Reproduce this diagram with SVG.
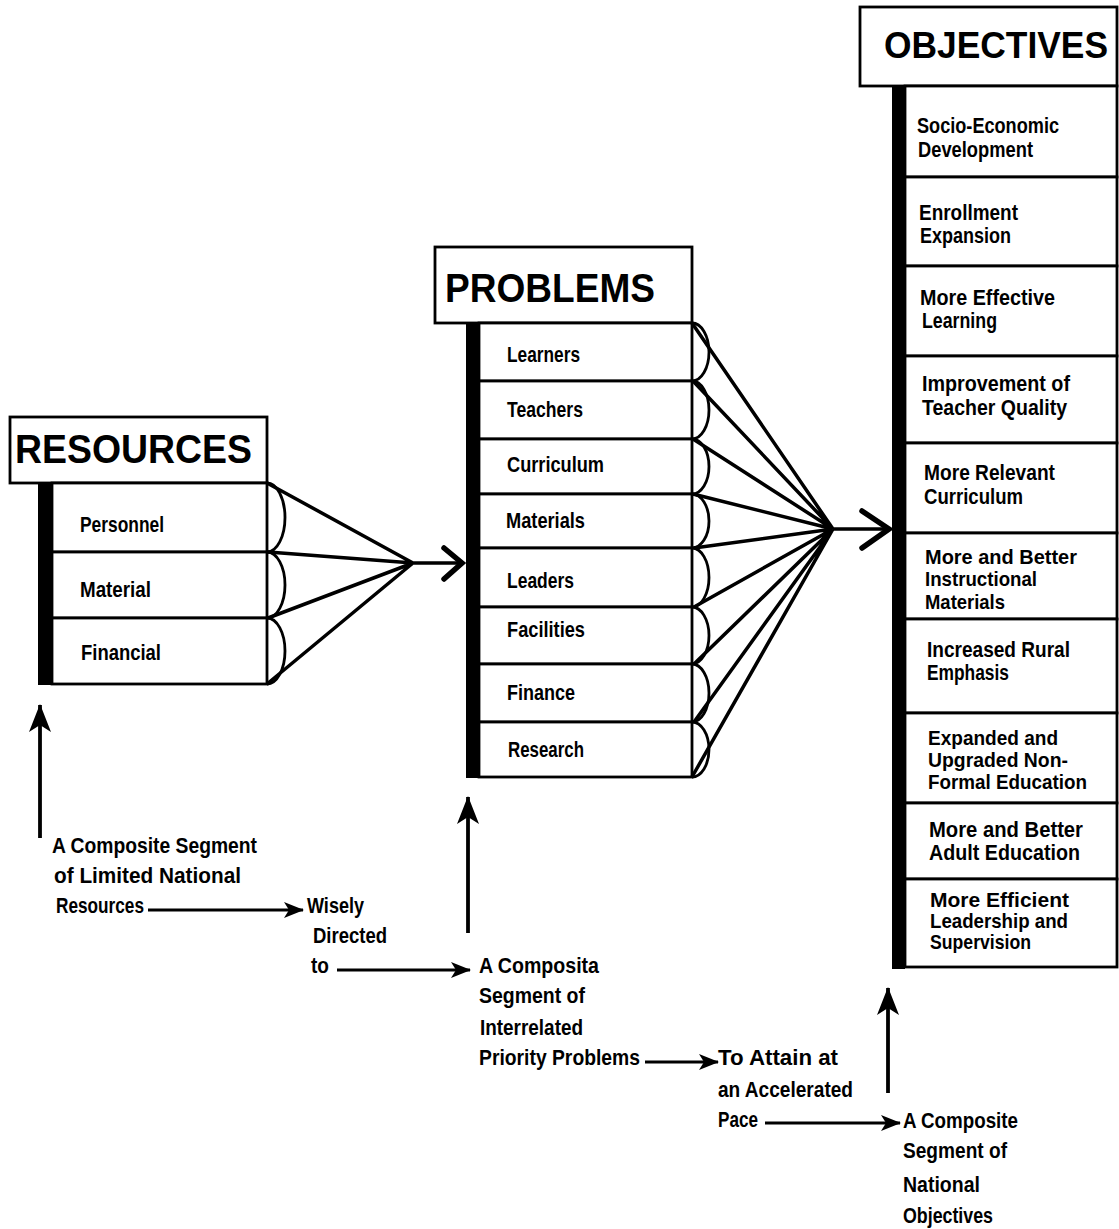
<svg xmlns="http://www.w3.org/2000/svg" width="1119" height="1229" viewBox="0 0 1119 1229">
<style>
.bg{fill:#fff}
.box{fill:#fff;stroke:#000;stroke-width:2.8}
.bar{fill:#000}
.t{font-family:"Liberation Sans",Arial,sans-serif;font-weight:bold;font-size:22.5px;fill:#000}
.s{font-size:20.5px}
.h{font-size:41px}
.fan{fill:none;stroke:#000;stroke-width:3.5;stroke-linejoin:round}
.arc{fill:none;stroke:#000;stroke-width:2.8}
.chev{fill:none;stroke:#000;stroke-width:5.5;stroke-linecap:round;stroke-linejoin:miter}
.ar{fill:none;stroke:#000;stroke-width:2.8;marker-end:url(#ah)}
.up{fill:none;stroke:#000;stroke-width:3.8;marker-end:url(#uh)}
</style>
<defs>
<marker id="ah" viewBox="0 0 20 16" markerWidth="20" markerHeight="16" refX="19" refY="8" orient="auto" markerUnits="userSpaceOnUse">
<path d="M0,0 L20,8 L0,16 L5,8 z" fill="#000"/>
</marker>
<marker id="uh" viewBox="0 0 28 22" markerWidth="28" markerHeight="22" refX="27" refY="11" orient="auto" markerUnits="userSpaceOnUse">
<path d="M0,0 L28,11 L0,22 L7,11 z" fill="#000"/>
</marker>
</defs>
<rect class="bg" x="0" y="0" width="1119" height="1229"/>

<g id="resources">
<rect class="box" x="10" y="417" width="257" height="66"/>
<text class="t h" x="15" y="463" textLength="237" lengthAdjust="spacingAndGlyphs">RESOURCES</text>
<rect class="box" x="52" y="483" width="215" height="69"/>
<rect class="box" x="52" y="552" width="215" height="66"/>
<rect class="box" x="52" y="618" width="215" height="66"/>
<rect class="bar" x="38" y="483" width="14" height="202"/>
<text class="t" x="80" y="532" textLength="84" lengthAdjust="spacingAndGlyphs">Personnel</text>
<text class="t" x="80" y="597" textLength="71" lengthAdjust="spacingAndGlyphs">Material</text>
<text class="t" x="81" y="660" textLength="80" lengthAdjust="spacingAndGlyphs">Financial</text>
</g>

<g id="problems">
<rect class="box" x="435" y="247" width="257" height="76"/>
<text class="t h" x="445" y="302" textLength="210" lengthAdjust="spacingAndGlyphs">PROBLEMS</text>
<rect class="box" x="479" y="323" width="213" height="58"/>
<rect class="box" x="479" y="381" width="213" height="58"/>
<rect class="box" x="479" y="439" width="213" height="55"/>
<rect class="box" x="479" y="494" width="213" height="54"/>
<rect class="box" x="479" y="548" width="213" height="59"/>
<rect class="box" x="479" y="607" width="213" height="57"/>
<rect class="box" x="479" y="664" width="213" height="58"/>
<rect class="box" x="479" y="722" width="213" height="55"/>
<rect class="bar" x="466" y="323" width="13" height="455"/>
<text class="t" x="507" y="362" textLength="73" lengthAdjust="spacingAndGlyphs">Learners</text>
<text class="t" x="507" y="417" textLength="76" lengthAdjust="spacingAndGlyphs">Teachers</text>
<text class="t" x="507" y="472" textLength="97" lengthAdjust="spacingAndGlyphs">Curriculum</text>
<text class="t" x="506" y="528" textLength="79" lengthAdjust="spacingAndGlyphs">Materials</text>
<text class="t" x="507" y="588" textLength="67" lengthAdjust="spacingAndGlyphs">Leaders</text>
<text class="t" x="507" y="637" textLength="78" lengthAdjust="spacingAndGlyphs">Facilities</text>
<text class="t" x="507" y="700" textLength="68" lengthAdjust="spacingAndGlyphs">Finance</text>
<text class="t" x="508" y="757" textLength="76" lengthAdjust="spacingAndGlyphs">Research</text>
</g>

<g id="objectives">
<rect class="box" x="860" y="7" width="257" height="79"/>
<text class="t h" x="884" y="58" textLength="224" lengthAdjust="spacingAndGlyphs" style="font-size:36px">OBJECTIVES</text>
<rect class="box" x="905" y="86" width="212" height="91"/>
<rect class="box" x="905" y="177" width="212" height="89"/>
<rect class="box" x="905" y="266" width="212" height="90"/>
<rect class="box" x="905" y="356" width="212" height="87"/>
<rect class="box" x="905" y="443" width="212" height="90"/>
<rect class="box" x="905" y="533" width="212" height="86"/>
<rect class="box" x="905" y="619" width="212" height="94"/>
<rect class="box" x="905" y="713" width="212" height="90"/>
<rect class="box" x="905" y="803" width="212" height="76"/>
<rect class="box" x="905" y="879" width="212" height="88"/>
<rect class="bar" x="892" y="86" width="13" height="883"/>
<text class="t" x="917" y="133" textLength="142" lengthAdjust="spacingAndGlyphs">Socio-Economic</text>
<text class="t" x="918" y="157" textLength="115" lengthAdjust="spacingAndGlyphs">Development</text>
<text class="t" x="919" y="220" textLength="99" lengthAdjust="spacingAndGlyphs">Enrollment</text>
<text class="t" x="920" y="243" textLength="91" lengthAdjust="spacingAndGlyphs">Expansion</text>
<text class="t" x="920" y="305" textLength="135" lengthAdjust="spacingAndGlyphs">More  Effective</text>
<text class="t" x="922" y="328" textLength="75" lengthAdjust="spacingAndGlyphs">Learning</text>
<text class="t" x="922" y="391" textLength="148" lengthAdjust="spacingAndGlyphs">Improvement  of</text>
<text class="t" x="922" y="415" textLength="145" lengthAdjust="spacingAndGlyphs">Teacher  Quality</text>
<text class="t" x="924" y="480" textLength="131" lengthAdjust="spacingAndGlyphs">More  Relevant</text>
<text class="t" x="924" y="504" textLength="99" lengthAdjust="spacingAndGlyphs">Curriculum</text>
<text class="t s" x="925" y="564" textLength="152" lengthAdjust="spacingAndGlyphs">More  and  Better</text>
<text class="t s" x="925" y="586" textLength="112" lengthAdjust="spacingAndGlyphs">Instructional</text>
<text class="t s" x="925" y="609" textLength="80" lengthAdjust="spacingAndGlyphs">Materials</text>
<text class="t" x="927" y="657" textLength="143" lengthAdjust="spacingAndGlyphs">Increased  Rural</text>
<text class="t" x="927" y="680" textLength="82" lengthAdjust="spacingAndGlyphs">Emphasis</text>
<text class="t s" x="928" y="745" textLength="130" lengthAdjust="spacingAndGlyphs">Expanded  and</text>
<text class="t s" x="928" y="767" textLength="140" lengthAdjust="spacingAndGlyphs">Upgraded  Non-</text>
<text class="t s" x="928" y="789" textLength="159" lengthAdjust="spacingAndGlyphs">Formal Education</text>
<text class="t" x="929" y="837" textLength="154" lengthAdjust="spacingAndGlyphs">More  and  Better</text>
<text class="t" x="929" y="860" textLength="151" lengthAdjust="spacingAndGlyphs">Adult  Education</text>
<text class="t s" x="930" y="907" textLength="139" lengthAdjust="spacingAndGlyphs">More  Efficient</text>
<text class="t s" x="930" y="928" textLength="138" lengthAdjust="spacingAndGlyphs">Leadership  and</text>
<text class="t s" x="930" y="949" textLength="101" lengthAdjust="spacingAndGlyphs">Supervision</text>
</g>

<g id="label-resources">
<text class="t" x="52" y="853" textLength="205" lengthAdjust="spacingAndGlyphs">A  Composite  Segment</text>
<text class="t" x="54" y="883" textLength="187" lengthAdjust="spacingAndGlyphs">of  Limited  National</text>
<text class="t" x="56" y="913" textLength="88" lengthAdjust="spacingAndGlyphs">Resources</text>
</g>
<g id="label-directed">
<text class="t" x="307" y="913" textLength="57" lengthAdjust="spacingAndGlyphs">Wisely</text>
<text class="t" x="313" y="943" textLength="74" lengthAdjust="spacingAndGlyphs">Directed</text>
<text class="t" x="311" y="973" textLength="18" lengthAdjust="spacingAndGlyphs">to</text>
</g>
<g id="label-problems">
<text class="t" x="479" y="973" textLength="120" lengthAdjust="spacingAndGlyphs">A  Composita</text>
<text class="t" x="479" y="1003" textLength="106" lengthAdjust="spacingAndGlyphs">Segment  of</text>
<text class="t" x="480" y="1035" textLength="103" lengthAdjust="spacingAndGlyphs">Interrelated</text>
<text class="t" x="479" y="1065" textLength="161" lengthAdjust="spacingAndGlyphs">Priority  Problems</text>
</g>
<g id="label-attain">
<text class="t" x="718" y="1065" textLength="120" lengthAdjust="spacingAndGlyphs">To  Attain  at</text>
<text class="t" x="718" y="1097" textLength="135" lengthAdjust="spacingAndGlyphs">an  Accelerated</text>
<text class="t" x="718" y="1127" textLength="40" lengthAdjust="spacingAndGlyphs">Pace</text>
</g>
<g id="label-objectives">
<text class="t" x="903" y="1128" textLength="115" lengthAdjust="spacingAndGlyphs">A  Composite</text>
<text class="t" x="903" y="1158" textLength="104" lengthAdjust="spacingAndGlyphs">Segment  of</text>
<text class="t" x="903" y="1192" textLength="77" lengthAdjust="spacingAndGlyphs">National</text>
<text class="t" x="903" y="1223" textLength="90" lengthAdjust="spacingAndGlyphs">Objectives</text>
</g>

<g id="connectors">
<path class="arc" d="M267,483 A18,34.5 0 0 1 267,552 M267,552 A18,33 0 0 1 267,618 M267,618 A18,33 0 0 1 267,684"/>
<path class="fan" d="M267,483 L413,563 M268,552 L413,563 M268,618 L413,563 M267,684 L413,563 M413,563 L460,563"/>
<path class="chev" d="M444,548 L462,563 L444,579"/>
<path class="arc" d="M692,323 A17,29 0 0 1 692,381 M692,381 A17,29 0 0 1 692,439 M692,439 A17,27.5 0 0 1 692,494 M692,494 A17,27 0 0 1 692,548 M692,548 A17,29.5 0 0 1 692,607 M692,607 A17,28.5 0 0 1 692,664 M692,664 A17,29 0 0 1 692,722 M692,722 A17,27.5 0 0 1 692,777"/>
<path class="fan" d="M692,323 L833,529 M693,381 L833,529 M693,439 L833,529 M693,494 L833,529 M694,548 L833,529 M694,607 L833,529 M694,664 L833,529 M694,722 L833,529 M692,777 L833,529 M833,529 L887,529"/>
<path class="chev" d="M862,511 L889,529 L862,548"/>
<line class="up" x1="40" y1="838" x2="40" y2="705"/>
<line class="ar" x1="148" y1="910" x2="303" y2="910"/>
<line class="ar" x1="337" y1="970" x2="470" y2="970"/>
<line class="up" x1="468" y1="933" x2="468" y2="797"/>
<line class="ar" x1="645" y1="1062" x2="718" y2="1062"/>
<line class="ar" x1="765" y1="1123" x2="900" y2="1123"/>
<line class="up" x1="888" y1="1093" x2="888" y2="988"/>
</g>
</svg>
